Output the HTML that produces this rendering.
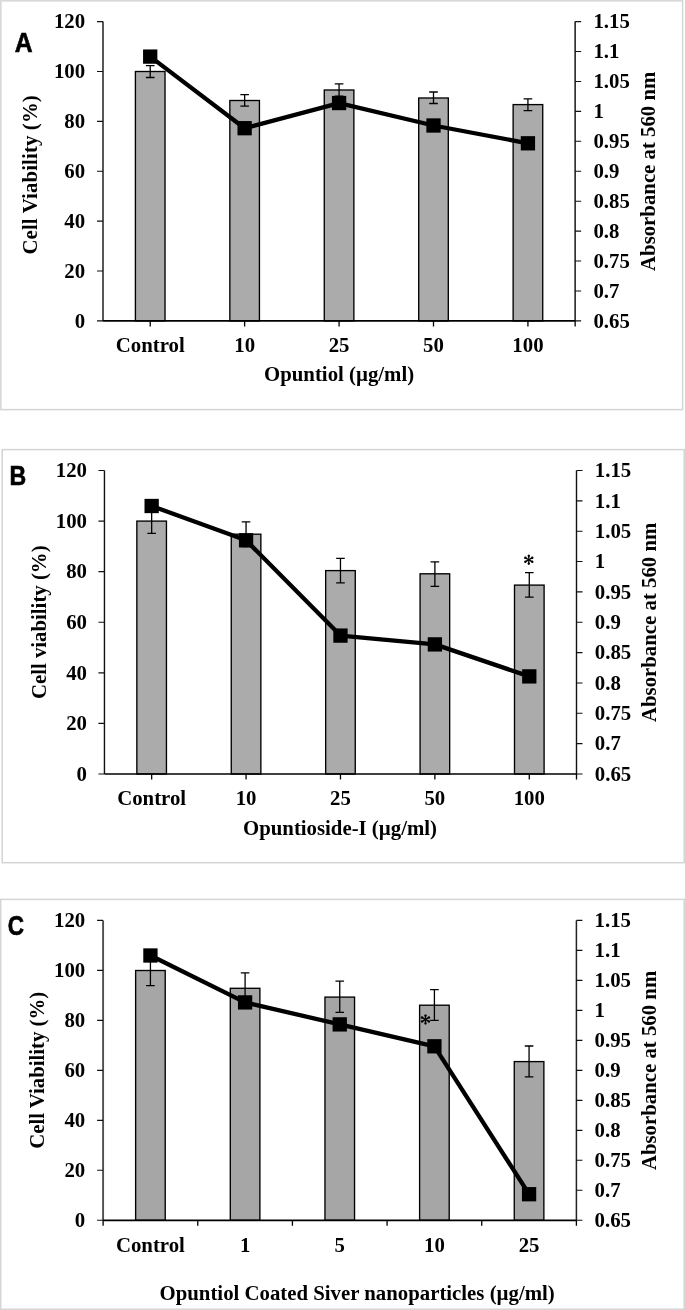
<!DOCTYPE html>
<html><head><meta charset="utf-8"><style>
html,body{margin:0;padding:0;background:#fff;}
body{width:685px;height:1310px;overflow:hidden;}
svg{display:block;will-change:transform;}
.t{font-family:"Liberation Serif",serif;font-weight:bold;font-size:20.8px;fill:#000;}
.st{font-family:"Liberation Serif",serif;font-size:24px;fill:#000;text-anchor:middle;}
.pl{font-family:"Liberation Sans",sans-serif;font-weight:bold;font-size:27.2px;fill:#000;stroke:#000;stroke-width:0.6px;}
</style></head><body>
<svg width="685" height="1310" viewBox="0 0 685 1310">
<rect width="685" height="1310" fill="#fff"/>
<rect x="0.85" y="0.85" width="681.75" height="408.75" fill="#fff" stroke="#d4d4d4" stroke-width="1.5"/>
<rect x="135.41" y="71.5" width="29.6" height="249.4" fill="#ababab" stroke="#000" stroke-width="1.35"/>
<rect x="229.84" y="100.5" width="29.6" height="220.4" fill="#ababab" stroke="#000" stroke-width="1.35"/>
<rect x="324.27" y="90" width="29.6" height="230.9" fill="#ababab" stroke="#000" stroke-width="1.35"/>
<rect x="418.7" y="98" width="29.6" height="222.9" fill="#ababab" stroke="#000" stroke-width="1.35"/>
<rect x="513.13" y="104.6" width="29.6" height="216.3" fill="#ababab" stroke="#000" stroke-width="1.35"/>
<path d="M150.22 65.6V77.5M145.91 65.6H154.52M145.91 77.5H154.52" stroke="#000" stroke-width="1.3" fill="none"/>
<path d="M244.64 94.6V106.2M240.34 94.6H248.94M240.34 106.2H248.94" stroke="#000" stroke-width="1.3" fill="none"/>
<path d="M339.07 83.8V96.2M334.77 83.8H343.38M334.77 96.2H343.38" stroke="#000" stroke-width="1.3" fill="none"/>
<path d="M433.5 92V103.5M429.2 92H437.81M429.2 103.5H437.81" stroke="#000" stroke-width="1.3" fill="none"/>
<path d="M527.93 98.8V110.6M523.63 98.8H532.23M523.63 110.6H532.23" stroke="#000" stroke-width="1.3" fill="none"/>
<line x1="103" y1="21.6" x2="103" y2="320.9" stroke="#4f4f4f" stroke-width="1.9"/>
<path d="M97 21.6H103M97 71.48H103M97 121.37H103M97 171.25H103M97 221.13H103M97 271.02H103M97 320.9H103" stroke="#111" stroke-width="1.1"/>
<line x1="575.15" y1="21.6" x2="575.15" y2="320.9" stroke="#333" stroke-width="1.7"/>
<path d="M575.15 21.6H581.15M575.15 51.53H581.15M575.15 81.46H581.15M575.15 111.39H581.15M575.15 141.32H581.15M575.15 171.25H581.15M575.15 201.18H581.15M575.15 231.11H581.15M575.15 261.04H581.15M575.15 290.97H581.15M575.15 320.9H581.15" stroke="#111" stroke-width="1.1"/>
<line x1="103" y1="320.9" x2="575.15" y2="320.9" stroke="#000" stroke-width="1.7"/>
<path d="M150.22 320.9V326.4M244.64 320.9V326.4M339.07 320.9V326.4M433.5 320.9V326.4M527.93 320.9V326.4M575.15 320.9V326.4" stroke="#000" stroke-width="1.3"/>
<polyline points="150.22,56.6 244.64,128.2 339.07,103.05 433.5,125.5 527.93,143.3" fill="none" stroke="#000" stroke-width="4.3" stroke-linejoin="round"/>
<rect x="143.06" y="49.45" width="14.3" height="14.3" fill="#000"/>
<rect x="237.49" y="121.05" width="14.3" height="14.3" fill="#000"/>
<rect x="331.93" y="95.9" width="14.3" height="14.3" fill="#000"/>
<rect x="426.36" y="118.35" width="14.3" height="14.3" fill="#000"/>
<rect x="520.78" y="136.15" width="14.3" height="14.3" fill="#000"/>
<text x="85.1" y="28.4" class="t" text-anchor="end">120</text>
<text x="85.1" y="78.28" class="t" text-anchor="end">100</text>
<text x="85.1" y="128.17" class="t" text-anchor="end">80</text>
<text x="85.1" y="178.05" class="t" text-anchor="end">60</text>
<text x="85.1" y="227.93" class="t" text-anchor="end">40</text>
<text x="85.1" y="277.82" class="t" text-anchor="end">20</text>
<text x="85.1" y="327.7" class="t" text-anchor="end">0</text>
<text x="593.4" y="28.4" class="t">1.15</text>
<text x="593.4" y="58.33" class="t">1.1</text>
<text x="593.4" y="88.26" class="t">1.05</text>
<text x="593.4" y="118.19" class="t">1</text>
<text x="593.4" y="148.12" class="t">0.95</text>
<text x="593.4" y="178.05" class="t">0.9</text>
<text x="593.4" y="207.98" class="t">0.85</text>
<text x="593.4" y="237.91" class="t">0.8</text>
<text x="593.4" y="267.84" class="t">0.75</text>
<text x="593.4" y="297.77" class="t">0.7</text>
<text x="593.4" y="327.7" class="t">0.65</text>
<text x="150.22" y="351.7" class="t" text-anchor="middle">Control</text>
<text x="244.64" y="351.7" class="t" text-anchor="middle">10</text>
<text x="339.07" y="351.7" class="t" text-anchor="middle">25</text>
<text x="433.5" y="351.7" class="t" text-anchor="middle">50</text>
<text x="527.93" y="351.7" class="t" text-anchor="middle">100</text>
<text x="339.1" y="381.1" class="t" text-anchor="middle">Opuntiol (µg/ml)</text>
<text transform="translate(37.3 174.9) rotate(-90)" class="t" text-anchor="middle" textLength="159.3" lengthAdjust="spacing">Cell Viability (%)</text>
<text transform="translate(654.8 171.3) rotate(-90)" class="t" text-anchor="middle">Absorbance at 560 nm</text>
<text transform="translate(14.8 51.9) scale(0.91 1)" class="pl">A</text>
<rect x="2.2" y="449.6" width="682" height="413.1" fill="#fff" stroke="#d4d4d4" stroke-width="1.5"/>
<rect x="136.85" y="521.1" width="29.6" height="252.9" fill="#ababab" stroke="#000" stroke-width="1.35"/>
<rect x="231.26" y="534.2" width="29.6" height="239.8" fill="#ababab" stroke="#000" stroke-width="1.35"/>
<rect x="325.67" y="570.6" width="29.6" height="203.4" fill="#ababab" stroke="#000" stroke-width="1.35"/>
<rect x="420.08" y="573.8" width="29.6" height="200.2" fill="#ababab" stroke="#000" stroke-width="1.35"/>
<rect x="514.5" y="585.1" width="29.6" height="188.9" fill="#ababab" stroke="#000" stroke-width="1.35"/>
<path d="M151.66 508.9V533.3M147.35 508.9H155.96M147.35 533.3H155.96" stroke="#000" stroke-width="1.3" fill="none"/>
<path d="M246.06 521.9V546.5M241.76 521.9H250.37M241.76 546.5H250.37" stroke="#000" stroke-width="1.3" fill="none"/>
<path d="M340.47 558.3V582.9M336.17 558.3H344.77M336.17 582.9H344.77" stroke="#000" stroke-width="1.3" fill="none"/>
<path d="M434.88 561.8V586.3M430.58 561.8H439.19M430.58 586.3H439.19" stroke="#000" stroke-width="1.3" fill="none"/>
<path d="M529.29 572.6V597.1M525 572.6H533.59M525 597.1H533.59" stroke="#000" stroke-width="1.3" fill="none"/>
<line x1="104.45" y1="470.5" x2="104.45" y2="774" stroke="#111" stroke-width="1.4"/>
<path d="M98.45 470.5H104.45M98.45 521.08H104.45M98.45 571.67H104.45M98.45 622.25H104.45M98.45 672.83H104.45M98.45 723.42H104.45M98.45 774H104.45" stroke="#111" stroke-width="1.1"/>
<line x1="576.5" y1="470.5" x2="576.5" y2="774" stroke="#111" stroke-width="1.4"/>
<path d="M576.5 470.5H582.5M576.5 500.85H582.5M576.5 531.2H582.5M576.5 561.55H582.5M576.5 591.9H582.5M576.5 622.25H582.5M576.5 652.6H582.5M576.5 682.95H582.5M576.5 713.3H582.5M576.5 743.65H582.5M576.5 774H582.5" stroke="#111" stroke-width="1.1"/>
<line x1="104.45" y1="774" x2="576.5" y2="774" stroke="#000" stroke-width="1.7"/>
<path d="M151.66 774V779.5M246.06 774V779.5M340.47 774V779.5M434.88 774V779.5M529.29 774V779.5M576.5 774V779.5" stroke="#000" stroke-width="1.3"/>
<polyline points="151.66,506 246.06,540.3 340.47,635.6 434.88,644.4 529.29,676.4" fill="none" stroke="#000" stroke-width="4.3" stroke-linejoin="round"/>
<rect x="144.5" y="498.85" width="14.3" height="14.3" fill="#000"/>
<rect x="238.91" y="533.15" width="14.3" height="14.3" fill="#000"/>
<rect x="333.32" y="628.45" width="14.3" height="14.3" fill="#000"/>
<rect x="427.74" y="637.25" width="14.3" height="14.3" fill="#000"/>
<rect x="522.14" y="669.25" width="14.3" height="14.3" fill="#000"/>
<g transform="translate(528.8 559.8)" fill="#000"><path d="M-0.45 0L-0.8 -3.0A1.25 1.25 0 1 1 0.8 -3.0L0.45 0Z" transform="rotate(0)"/><path d="M-0.45 0L-0.8 -3.0A1.25 1.25 0 1 1 0.8 -3.0L0.45 0Z" transform="rotate(60)"/><path d="M-0.45 0L-0.8 -3.0A1.25 1.25 0 1 1 0.8 -3.0L0.45 0Z" transform="rotate(120)"/><path d="M-0.45 0L-0.8 -3.0A1.25 1.25 0 1 1 0.8 -3.0L0.45 0Z" transform="rotate(180)"/><path d="M-0.45 0L-0.8 -3.0A1.25 1.25 0 1 1 0.8 -3.0L0.45 0Z" transform="rotate(240)"/><path d="M-0.45 0L-0.8 -3.0A1.25 1.25 0 1 1 0.8 -3.0L0.45 0Z" transform="rotate(300)"/><circle r="1"/></g>
<text x="87" y="477.3" class="t" text-anchor="end">120</text>
<text x="87" y="527.88" class="t" text-anchor="end">100</text>
<text x="87" y="578.47" class="t" text-anchor="end">80</text>
<text x="87" y="629.05" class="t" text-anchor="end">60</text>
<text x="87" y="679.63" class="t" text-anchor="end">40</text>
<text x="87" y="730.22" class="t" text-anchor="end">20</text>
<text x="87" y="780.8" class="t" text-anchor="end">0</text>
<text x="594.8" y="477.3" class="t">1.15</text>
<text x="594.8" y="507.65" class="t">1.1</text>
<text x="594.8" y="538" class="t">1.05</text>
<text x="594.8" y="568.35" class="t">1</text>
<text x="594.8" y="598.7" class="t">0.95</text>
<text x="594.8" y="629.05" class="t">0.9</text>
<text x="594.8" y="659.4" class="t">0.85</text>
<text x="594.8" y="689.75" class="t">0.8</text>
<text x="594.8" y="720.1" class="t">0.75</text>
<text x="594.8" y="750.45" class="t">0.7</text>
<text x="594.8" y="780.8" class="t">0.65</text>
<text x="151.66" y="805.3" class="t" text-anchor="middle">Control</text>
<text x="246.06" y="805.3" class="t" text-anchor="middle">10</text>
<text x="340.47" y="805.3" class="t" text-anchor="middle">25</text>
<text x="434.88" y="805.3" class="t" text-anchor="middle">50</text>
<text x="529.29" y="805.3" class="t" text-anchor="middle">100</text>
<text x="340" y="834.5" class="t" text-anchor="middle">Opuntioside-I (µg/ml)</text>
<text transform="translate(45.5 622.25) rotate(-90)" class="t" text-anchor="middle">Cell viability (%)</text>
<text transform="translate(655.7 622.35) rotate(-90)" class="t" text-anchor="middle">Absorbance at 560 nm</text>
<text transform="translate(9.4 485.1) scale(0.85 1)" class="pl">B</text>
<rect x="0.7" y="899.4" width="683.5" height="409.8" fill="#fff" stroke="#d4d4d4" stroke-width="1.5"/>
<rect x="135.63" y="970.5" width="29.6" height="249.8" fill="#a6a6a6" stroke="#000" stroke-width="1.35"/>
<rect x="230.29" y="988.3" width="29.6" height="232" fill="#a6a6a6" stroke="#000" stroke-width="1.35"/>
<rect x="324.95" y="997.1" width="29.6" height="223.2" fill="#a6a6a6" stroke="#000" stroke-width="1.35"/>
<rect x="419.61" y="1005.2" width="29.6" height="215.1" fill="#a6a6a6" stroke="#000" stroke-width="1.35"/>
<rect x="514.27" y="1061.6" width="29.6" height="158.7" fill="#a6a6a6" stroke="#000" stroke-width="1.35"/>
<path d="M150.43 955.4V985.6M146.13 955.4H154.73M146.13 985.6H154.73" stroke="#000" stroke-width="1.3" fill="none"/>
<path d="M245.09 972.9V1003.7M240.79 972.9H249.39M240.79 1003.7H249.39" stroke="#000" stroke-width="1.3" fill="none"/>
<path d="M339.75 981.2V1012.3M335.45 981.2H344.05M335.45 1012.3H344.05" stroke="#000" stroke-width="1.3" fill="none"/>
<path d="M434.41 989.7V1020.4M430.11 989.7H438.71M430.11 1020.4H438.71" stroke="#000" stroke-width="1.3" fill="none"/>
<path d="M529.07 1046V1076.9M524.77 1046H533.37M524.77 1076.9H533.37" stroke="#000" stroke-width="1.3" fill="none"/>
<line x1="103.1" y1="920.4" x2="103.1" y2="1220.3" stroke="#4f4f4f" stroke-width="1.9"/>
<path d="M97.1 920.4H103.1M97.1 970.38H103.1M97.1 1020.37H103.1M97.1 1070.35H103.1M97.1 1120.33H103.1M97.1 1170.32H103.1M97.1 1220.3H103.1" stroke="#111" stroke-width="1.1"/>
<line x1="576.4" y1="920.4" x2="576.4" y2="1220.3" stroke="#222" stroke-width="1.5"/>
<path d="M576.4 920.4H582.4M576.4 950.39H582.4M576.4 980.38H582.4M576.4 1010.37H582.4M576.4 1040.36H582.4M576.4 1070.35H582.4M576.4 1100.34H582.4M576.4 1130.33H582.4M576.4 1160.32H582.4M576.4 1190.31H582.4M576.4 1220.3H582.4" stroke="#111" stroke-width="1.1"/>
<line x1="103.1" y1="1220.3" x2="576.4" y2="1220.3" stroke="#000" stroke-width="1.7"/>
<path d="M103.1 1220.3V1225.8M197.76 1220.3V1225.8M292.42 1220.3V1225.8M387.08 1220.3V1225.8M481.74 1220.3V1225.8M576.4 1220.3V1225.8" stroke="#000" stroke-width="1.3"/>
<polyline points="150.43,955.5 245.09,1002.4 339.75,1024.4 434.41,1046.3 529.07,1194.2" fill="none" stroke="#000" stroke-width="4.3" stroke-linejoin="round"/>
<rect x="143.28" y="948.35" width="14.3" height="14.3" fill="#000"/>
<rect x="237.94" y="995.25" width="14.3" height="14.3" fill="#000"/>
<rect x="332.6" y="1017.25" width="14.3" height="14.3" fill="#000"/>
<rect x="427.26" y="1039.15" width="14.3" height="14.3" fill="#000"/>
<rect x="521.92" y="1187.05" width="14.3" height="14.3" fill="#000"/>
<g transform="translate(425.5 1019.5)" fill="#000"><path d="M-0.45 0L-0.8 -3.0A1.25 1.25 0 1 1 0.8 -3.0L0.45 0Z" transform="rotate(0)"/><path d="M-0.45 0L-0.8 -3.0A1.25 1.25 0 1 1 0.8 -3.0L0.45 0Z" transform="rotate(60)"/><path d="M-0.45 0L-0.8 -3.0A1.25 1.25 0 1 1 0.8 -3.0L0.45 0Z" transform="rotate(120)"/><path d="M-0.45 0L-0.8 -3.0A1.25 1.25 0 1 1 0.8 -3.0L0.45 0Z" transform="rotate(180)"/><path d="M-0.45 0L-0.8 -3.0A1.25 1.25 0 1 1 0.8 -3.0L0.45 0Z" transform="rotate(240)"/><path d="M-0.45 0L-0.8 -3.0A1.25 1.25 0 1 1 0.8 -3.0L0.45 0Z" transform="rotate(300)"/><circle r="1"/></g>
<text x="85.2" y="927.2" class="t" text-anchor="end">120</text>
<text x="85.2" y="977.18" class="t" text-anchor="end">100</text>
<text x="85.2" y="1027.17" class="t" text-anchor="end">80</text>
<text x="85.2" y="1077.15" class="t" text-anchor="end">60</text>
<text x="85.2" y="1127.13" class="t" text-anchor="end">40</text>
<text x="85.2" y="1177.12" class="t" text-anchor="end">20</text>
<text x="85.2" y="1227.1" class="t" text-anchor="end">0</text>
<text x="594.6" y="927.2" class="t">1.15</text>
<text x="594.6" y="957.19" class="t">1.1</text>
<text x="594.6" y="987.18" class="t">1.05</text>
<text x="594.6" y="1017.17" class="t">1</text>
<text x="594.6" y="1047.16" class="t">0.95</text>
<text x="594.6" y="1077.15" class="t">0.9</text>
<text x="594.6" y="1107.14" class="t">0.85</text>
<text x="594.6" y="1137.13" class="t">0.8</text>
<text x="594.6" y="1167.12" class="t">0.75</text>
<text x="594.6" y="1197.11" class="t">0.7</text>
<text x="594.6" y="1227.1" class="t">0.65</text>
<text x="150.43" y="1251.5" class="t" text-anchor="middle">Control</text>
<text x="245.09" y="1251.5" class="t" text-anchor="middle">1</text>
<text x="339.75" y="1251.5" class="t" text-anchor="middle">5</text>
<text x="434.41" y="1251.5" class="t" text-anchor="middle">10</text>
<text x="529.07" y="1251.5" class="t" text-anchor="middle">25</text>
<text x="357.15" y="1300" class="t" text-anchor="middle">Opuntiol Coated Siver nanoparticles (µg/ml)</text>
<text transform="translate(44 1070.3) rotate(-90)" class="t" text-anchor="middle">Cell Viability (%)</text>
<text transform="translate(655.7 1070.45) rotate(-90)" class="t" text-anchor="middle">Absorbance at 560 nm</text>
<text transform="translate(7.8 935.1) scale(0.83 1)" class="pl">C</text>
</svg>
</body></html>
